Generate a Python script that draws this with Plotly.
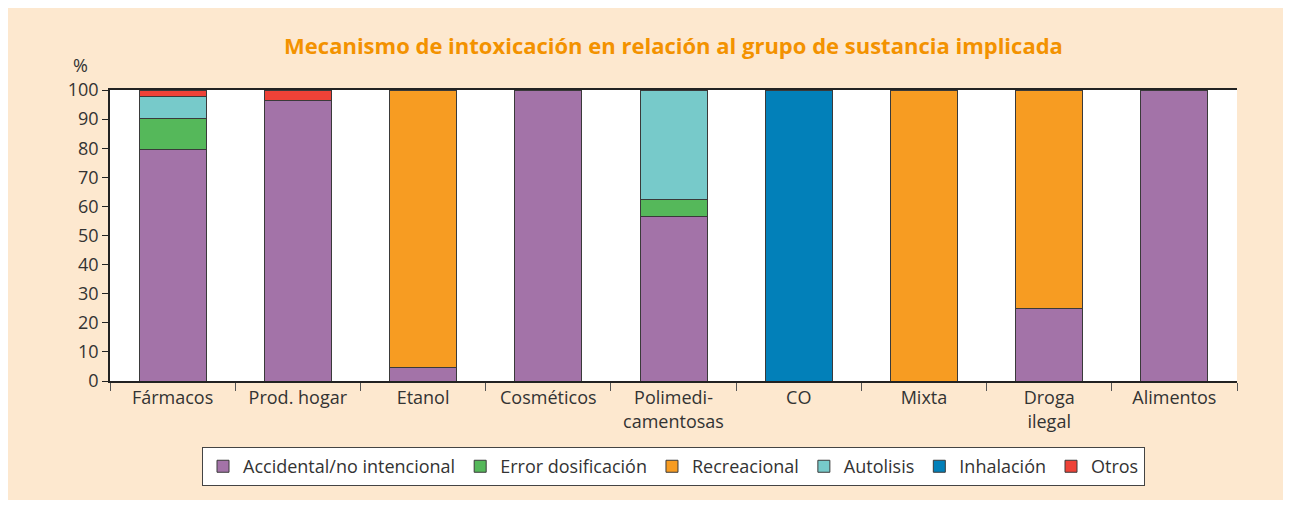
import plotly.graph_objects as go

# Datos
categorias = ["Fármacos", "Prod. hogar", "Etanol", "Cosméticos", "Polimedi-<br>camentosas",
              "CO", "Mixta", "Droga<br>ilegal", "Alimentos"]
accidental = [79.6, 96.3, 4.5, 100, 56.5, 0, 0, 25, 100]
error_dosificacion = [10.7, 0, 0, 0, 6.0, 0, 0, 0, 0]
recreacional = [0, 0, 95.5, 0, 0, 0, 100, 75, 0]
autolisis = [7.6, 0, 0, 0, 37.5, 0, 0, 0, 0]
inhalacion = [0, 0, 0, 0, 0, 100, 0, 0, 0]
otros = [2.1, 3.7, 0, 0, 0, 0, 0, 0, 0]
y_ticks = list(range(0, 101, 10))

series = [
    ("Accidental/no intencional", accidental, "#A373A8"),
    ("Error dosificación", error_dosificacion, "#55B85A"),
    ("Recreacional", recreacional, "#F79C22"),
    ("Autolisis", autolisis, "#77CACA"),
    ("Inhalación", inhalacion, "#0280B9"),
    ("Otros", otros, "#EE4237"),
]

fig = go.Figure()
for nombre, valores, color in series:
    # los ceros no se dibujan (evita bordes sueltos de barras vacías)
    fig.add_trace(go.Bar(
        x=categorias, y=[v if v else None for v in valores], name=nombre,
        marker=dict(color=color, line=dict(color="#3a3a3a", width=1)),
    ))

fuente = "Open Sans"
fig.update_layout(
    barmode="stack",
    bargap=0.465,
    width=1275, height=492,
    paper_bgcolor="#FDE8CF",
    plot_bgcolor="white",
    margin=dict(l=102, r=46, t=82, b=119),
    font=dict(family=fuente, size=18, color="#333333"),
    title=dict(
        text="<b>Mecanismo de intoxicación en relación al grupo de sustancia implicada</b>",
        x=0.5, xref="paper", xanchor="center", y=1 - 38 / 492, yanchor="middle",
        font=dict(family=fuente, size=22, color="#F39200"),
    ),
    legend=dict(
        orientation="h", x=0.5, xanchor="center", y=-0.227, yanchor="top",
        bgcolor="white", bordercolor="#444444", borderwidth=1,
        font=dict(size=18), traceorder="normal",
    ),
)

fig.update_xaxes(
    showline=True, linecolor="#222222", linewidth=1.5, mirror=True,
    ticks="outside", tickson="boundaries", ticklen=8, tickcolor="#555555",
    showgrid=False,
)
fig.update_yaxes(
    range=[0, 100], tickvals=y_ticks, showline=True, linecolor="#222222", linewidth=1.5,
    ticks="outside", ticklen=6, tickcolor="#222222", showgrid=False,
)

fig.add_annotation(
    text="%", xref="paper", yref="paper", x=-0.0266, y=1.085,
    xanchor="center", yanchor="middle",
    showarrow=False, font=dict(size=18, color="#333333"),
)

fig.write_html("out.html")
